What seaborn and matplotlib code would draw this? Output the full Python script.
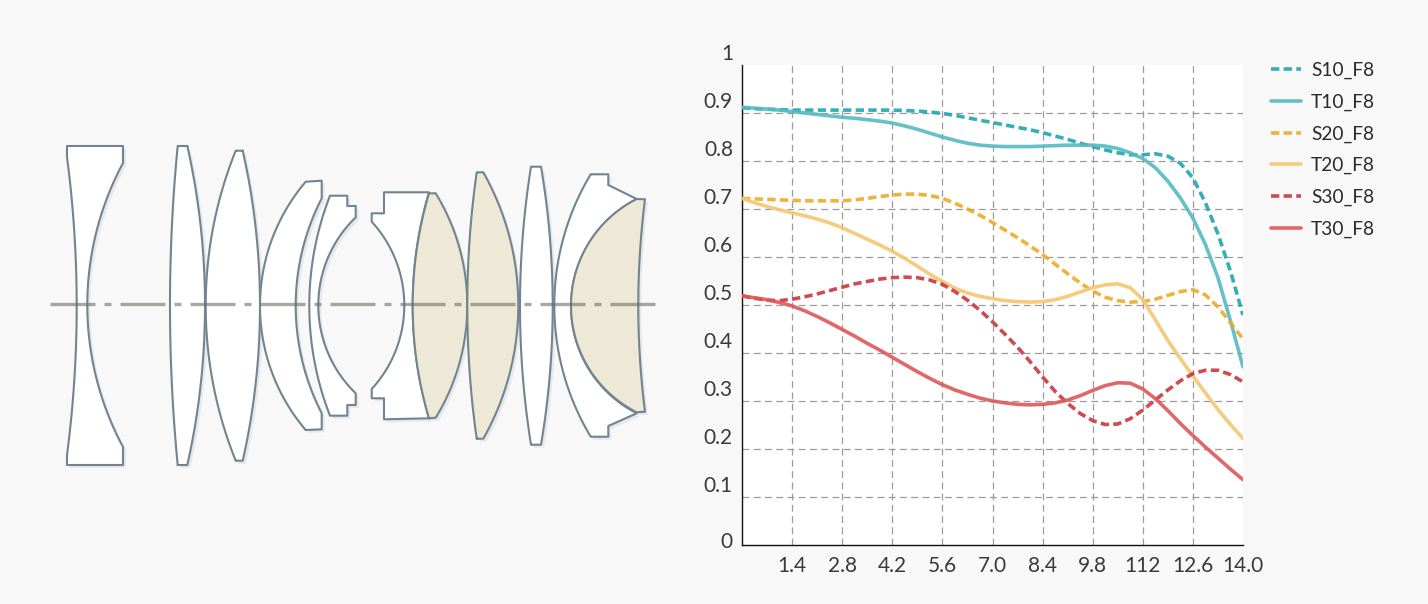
import numpy as np
import pandas as pd
import matplotlib
matplotlib.use("Agg")
import matplotlib.pyplot as plt
from matplotlib.patches import Polygon
from matplotlib.transforms import ScaledTranslation
import seaborn as sns

# ---- MTF chart data ----
x_values = [0, .35, .7, 1.05, 1.4, 1.75, 2.1, 2.45, 2.8, 3.15, 3.5, 3.85, 4.2, 4.55, 4.9, 5.25, 5.6, 5.95, 6.3, 6.65,
            7.0, 7.35, 7.7, 8.05, 8.4, 8.75, 9.1, 9.45, 9.8, 10.15, 10.5, 10.85, 11.2, 11.55, 11.9, 12.25, 12.6,
            12.95, 13.3, 13.65, 14.0]
s10 = [.910,.908,.907,.906,.905,.905,.905,.905,.905,.905,.905,.905,.905,.904,.903,.901,.898,.894,.889,.884,
       .879,.874,.869,.864,.858,.851,.844,.836,.829,.822,.816,.812,.812,.814,.809,.794,.764,.712,.647,.569,.478]
t10 = [.911,.909,.907,.905,.902,.899,.896,.893,.890,.888,.885,.882,.878,.872,.865,.857,.849,.842,.836,.832,
       .830,.829,.829,.829,.830,.831,.832,.832,.832,.830,.825,.816,.804,.785,.757,.722,.680,.625,.556,.466,.370]
s20 = [.721,.720,.719,.718,.717,.716,.716,.716,.716,.718,.721,.725,.728,.730,.730,.727,.721,.711,.699,.686,
       .671,.655,.639,.622,.604,.584,.564,.545,.528,.515,.508,.505,.506,.511,.519,.527,.531,.520,.495,.462,.428]
t20 = [.721,.712,.704,.697,.691,.685,.678,.670,.660,.648,.636,.624,.611,.596,.580,.563,.548,.534,.524,.517,
       .512,.508,.506,.505,.506,.510,.517,.526,.535,.541,.543,.535,.510,.468,.425,.387,.351,.316,.281,.250,.221]
s30 = [.518,.513,.509,.508,.511,.516,.522,.529,.536,.543,.548,.553,.556,.557,.556,.551,.542,.527,.509,.488,
       .464,.438,.411,.381,.349,.319,.294,.273,.258,.250,.251,.262,.280,.301,.322,.341,.356,.363,.363,.354,.339]
t30 = [.518,.514,.510,.504,.497,.487,.475,.462,.448,.434,.419,.405,.390,.375,.360,.346,.333,.322,.313,.305,
       .299,.295,.292,.291,.292,.295,.301,.310,.321,.331,.337,.336,.324,.304,.279,.252,.227,.203,.180,.157,.135]
series_names = ["S10_F8", "T10_F8", "S20_F8", "T20_F8", "S30_F8", "T30_F8"]
series_values = [s10, t10, s20, t20, s30, t30]
series_colors = ["#1fa6ae", "#55b9c2", "#eeaa26", "#f5c670", "#c8383e", "#df5658"]
x_ticks = [1.4, 2.8, 4.2, 5.6, 7.0, 8.4, 9.8, 11.2, 12.6, 14.0]
x_tick_labels = ["1.4", "2.8", "4.2", "5.6", "7.0", "8.4", "9.8", "112", "12.6", "14.0"]
y_ticks = [0, .1, .2, .3, .4, .5, .6, .7, .8, .9, 1]
y_tick_labels = ["0", "0.1", "0.2", "0.3", "0.4", "0.5", "0.6", "0.7", "0.8", "0.9", "1"]

# ---- lens diagram outlines (illustration, in picture pixels) ----
AXIS_Y = 304.3
def arc(p0, xm, p1, n=48):
    """circular arc from p0 to p1 crossing the optical axis at xm"""
    a, b, c = np.array(p0, float), np.array([xm, AXIS_Y]), np.array(p1, float)
    A = 2 * np.array([b - a, c - a])
    r = np.array([b @ b - a @ a, c @ c - a @ a])
    cen = np.linalg.solve(A, r)
    rad = np.hypot(*(a - cen))
    t0, t1 = np.arctan2(*(a - cen)[::-1]), np.arctan2(*(c - cen)[::-1])
    tm = np.arctan2(*(b - cen)[::-1])
    d1 = (t1 - t0 + np.pi) % (2 * np.pi) - np.pi
    d2 = (tm - t0 + np.pi) % (2 * np.pi) - np.pi
    if abs(d2) > abs(d1) or d1 * d2 < 0:
        d1 = d1 - np.sign(d1) * 2 * np.pi
    t = t0 + np.linspace(0, 1, n) * d1
    return np.c_[cen[0] + rad * np.cos(t), cen[1] + rad * np.sin(t)]

def outline(*parts):
    return np.vstack([np.atleast_2d(p) for p in parts])

WHITE, BEIGE = "#ffffff", "#ede9d6"
lenses = [
    (WHITE, outline([(67, 146), (123, 146), (123, 163)], arc((123, 163), 87.3, (123, 447)),
                    [(123, 465), (67, 465), (67, 455)], arc((67, 455), 76.7, (67, 157)))),
    (WHITE, outline([(177.7, 146), (187.3, 146)], arc((187.3, 146), 205, (187.3, 465)),
                    [(177.7, 465)], arc((177.7, 465), 170, (177.7, 146)))),
    (WHITE, outline([(235.7, 150.7), (242.7, 150.7)], arc((242.7, 150.7), 260, (242.7, 460.7)),
                    [(235.7, 460.7)], arc((235.7, 460.7), 205.7, (235.7, 150.7)))),
    (WHITE, outline([(305.7, 181.7), (321.7, 180.7), (321.7, 198.3)], arc((321.7, 198.3), 295.7, (321.7, 413.3)),
                    [(321.7, 429.3), (305.7, 430)], arc((305.7, 430), 260, (305.7, 181.7)))),
    (WHITE, outline([(330, 195.7), (347.3, 195.7), (347.3, 206), (355.7, 206), (355.7, 217.3)],
                    arc((355.7, 217.3), 318.3, (355.7, 393.3)),
                    [(355.7, 405), (347.3, 405), (347.3, 415.7), (330, 415.7)],
                    arc((330, 415.7), 309.3, (330, 195.7)))),
    (WHITE, outline([(384, 192.3), (429, 192.3)], arc((429, 192.3), 412.7, (429, 418.3)),
                    [(384, 419.3), (384, 398.3), (371.7, 398.3), (371.7, 389)],
                    arc((371.7, 389), 404.3, (371.7, 221.7)),
                    [(371.7, 213.3), (384, 213.3)])),
    (BEIGE, outline([(429, 193.3), (435.7, 193.3)], arc((435.7, 193.3), 467.3, (435.7, 417.7)),
                    [(429, 418.3)], arc((429, 418.3), 412.7, (429, 193.3)))),
    (BEIGE, outline([(476.7, 172.3), (483.3, 172.3)], arc((483.3, 172.3), 518.3, (483.3, 438.7)),
                    [(476.7, 438.7)], arc((476.7, 438.7), 467.3, (476.7, 172.3)))),
    (WHITE, outline([(531, 166.7), (541, 166.7)], arc((541, 166.7), 552.7, (541, 444.7)),
                    [(531, 444.7)], arc((531, 444.7), 520, (531, 166.7)))),
    (WHITE, outline([(590.7, 174.3), (608.3, 174.3), (608.3, 185), (636.7, 199)],
                    arc((636.7, 199), 571, (636.7, 413.3)),
                    [(608.3, 426), (608.3, 436.7), (590.7, 436.7)],
                    arc((590.7, 436.7), 554.3, (590.7, 174.3)))),
    (BEIGE, outline([(636.7, 199), (645, 199.3)], arc((645, 199.3), 638.3, (645, 411.7)),
                    [(636.7, 412.3)], arc((636.7, 412.3), 571, (636.7, 199)))),
]

# ---- figure ----
sns.set_theme(style="white")
plt.rcParams["font.family"] = ["Lato", "DejaVu Sans"]
BG = "#f8f8f8"
TXT = "#3a3a3a"
fig = plt.figure(figsize=(14.28, 6.04), dpi=100, facecolor=BG)

# lens panel
lax = fig.add_axes([0, 0, 1, 1], zorder=0)
lax.set_xlim(0, 1428)
lax.set_ylim(604, 0)
lax.axis("off")
for fill, pts in lenses:
    lax.add_patch(Polygon(pts + [3, 3], closed=True, fc="#e6e8ec", ec="none", zorder=1))
for fill, pts in lenses:
    lax.add_patch(Polygon(pts, closed=True, fc=fill, ec="#72848f", lw=1.5, joinstyle="round", zorder=2))
LW = 2.4
px2lw = 0.72 / LW
lax.plot([50, 655], [AXIS_Y, AXIS_Y], color="#6b6b60", alpha=0.58, lw=LW, solid_capstyle="butt",
         linestyle=(0, (45 * px2lw, 9 * px2lw, 7 * px2lw, 9 * px2lw)),
         dash_capstyle="butt", zorder=3)

# chart panel
ax = fig.add_axes([742 / 1428, 1 - 544.5 / 604, 501 / 1428, 480 / 604], zorder=1)
ax.set_facecolor("white")
df = pd.concat([pd.DataFrame({"x": x_values, "value": v, "series": n})
                for n, v in zip(series_names, series_values)], ignore_index=True)
dash_on, dash_off = 2.3, 1.2
sns.lineplot(data=df, x="x", y="value", hue="series", style="series", hue_order=series_names,
             style_order=series_names, palette=dict(zip(series_names, series_colors)),
             dashes={n: ((dash_on, dash_off) if n[0] == "S" else "") for n in series_names},
             estimator=None, errorbar=None, linewidth=2.6, alpha=0.9, ax=ax, zorder=3)
ax.set_xlim(0, 14)
ax.set_ylim(0, 1)
ax.set_xlabel("")
ax.set_ylabel("")
ax.set_xticks(x_ticks, x_tick_labels)
ax.set_yticks(y_ticks, y_tick_labels)
ax.tick_params(axis="both", length=0, labelsize=15, labelcolor=TXT)
ax.tick_params(axis="x", pad=8.5)
ax.tick_params(axis="y", pad=6.5)
ax.grid(True, color="#9c9c9c", lw=0.9, linestyle=(0, (5.5, 3.5)), zorder=0)
ax.set_axisbelow(True)
for i, g in enumerate(ax.yaxis.get_gridlines()):
    if y_ticks[i] in (0, 1):
        g.set_visible(False)
ax.xaxis.get_gridlines()[-1].set_visible(False)
for lab, v in zip(ax.get_yticklabels(), y_ticks):
    dy = 5 if v == 0 else 12
    lab.set_transform(lab.get_transform() + ScaledTranslation(0, dy / 100, fig.dpi_scale_trans))
for s in ("top", "right"):
    ax.spines[s].set_visible(False)
for s in ("left", "bottom"):
    ax.spines[s].set_color("#111111")
    ax.spines[s].set_linewidth(1.0)

sns.move_legend(ax, "upper left", bbox_to_anchor=(1271 / 1428, 1 - 61.5 / 604),
                bbox_transform=fig.transFigure, frameon=False, title=None, fontsize=13.8,
                handlelength=1.56, handletextpad=0.52, labelspacing=0.763, borderpad=0, borderaxespad=0)
for t in ax.get_legend().get_texts():
    t.set_color("#2a2a2a")

fig.savefig("out.png", dpi=100, facecolor=BG)
